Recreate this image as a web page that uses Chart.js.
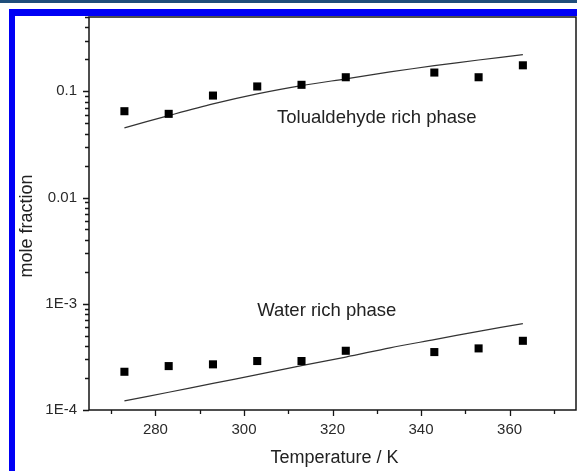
<!DOCTYPE html>
<html>
<head>
<meta charset="utf-8">
<script src="https://cdn.jsdelivr.net/npm/chart.js@4.4.0/dist/chart.umd.min.js"></script>
<style>
    html, body { margin: 0; padding: 0; background: #fff; }
    #wrap { position: relative; width: 577px; height: 471px; overflow: hidden; }
    #topbar { position: absolute; left: 0; top: 0; width: 577px; height: 3px; background: #1f4e7c; }
    #frame {
        position: absolute; left: 9px; top: 9px; width: 620px; height: 520px;
        border-left: 6px solid #0000f5; border-top: 7px solid #0000f5; box-sizing: border-box;
    }
    #chart { position: absolute; left: 0; top: 0; }
</style>
</head>
<body>
<div id="wrap">
    <div id="topbar"></div>
    <div id="frame"></div>
    <canvas id="chart" width="577" height="471"></canvas>
</div>
<script>
// mole fraction vs temperature — experimental (squares) and model (lines)

const TEMPS = [273, 283, 293, 303, 313, 323, 343, 353, 363];
const TOLU_EXP = [0.0649, 0.0613, 0.0911, 0.111, 0.115, 0.1355, 0.150, 0.1355, 0.1755];
const WATER_EXP = [2.29e-4, 2.59e-4, 2.69e-4, 2.89e-4, 2.89e-4, 3.61e-4, 3.51e-4, 3.80e-4, 4.48e-4];

const MODEL_TEMPS = [273, 283, 293, 303, 313, 323, 333, 343, 353, 363];
const TOLU_MODEL = [0.0453, 0.059, 0.076, 0.0945, 0.113, 0.131, 0.152, 0.174, 0.197, 0.221];
const WATER_MODEL = [1.22e-4, 1.47e-4, 1.78e-4, 2.15e-4, 2.62e-4, 3.15e-4, 3.85e-4, 4.6e-4, 5.5e-4, 6.5e-4];

const X_TICKS = [270, 280, 290, 300, 310, 320, 330, 340, 350, 360, 370];
const X_LABELS = [280, 300, 320, 340, 360];
const DECADES = [1e-4, 1e-3, 0.01, 0.1];
const DECADE_LABELS = ['1E-4', '1E-3', '0.01', '0.1'];
const MINOR_MULT = [2, 3, 4, 5, 6, 7, 8, 9];
const PHASE_LABELS = ['Tolualdehyde rich phase', 'Water rich phase'];

const X_TITLE = 'Temperature / K';
const Y_TITLE = 'mole fraction';

const Y_MIN = 1e-4, Y_MAX = 0.5;
const FONT = "'Liberation Sans', Arial, Helvetica, sans-serif";

const Y_TICKS = [];
DECADES.forEach(d => {
    Y_TICKS.push(d);
    MINOR_MULT.forEach(m => { if (d * m <= Y_MAX * 1.0001) Y_TICKS.push(d * m); });
});

function decadeLabel(v) {
    const i = DECADES.findIndex(d => Math.abs(v - d) / d < 1e-6);
    return i >= 0 ? DECADE_LABELS[i] : '';
}

const pts = (xs, ys) => xs.map((x, i) => ({ x, y: ys[i] }));

// frame, tick marks, titles and phase labels
const decorPlugin = {
    id: 'decor',
    afterDraw(chart) {
        const { ctx, chartArea: a, scales: { x, y } } = chart;
        ctx.save();
        ctx.strokeStyle = '#151515';
        ctx.lineWidth = 1.5;
        ctx.strokeRect(a.left, a.top, a.right - a.left, a.bottom - a.top);

        ctx.lineWidth = 1.3;
        ctx.beginPath();
        X_TICKS.forEach(v => {
            const px = Math.round(x.getPixelForValue(v)) + 0.5;
            const len = X_LABELS.includes(v) ? 6 : 4;
            ctx.moveTo(px, a.bottom);
            ctx.lineTo(px, a.bottom + len);
        });
        Y_TICKS.forEach(v => {
            const py = Math.round(y.getPixelForValue(v)) + 0.5;
            const len = decadeLabel(v) ? 6 : 4;
            ctx.moveTo(a.left, py);
            ctx.lineTo(a.left - len, py);
        });
        ctx.stroke();

        ctx.fillStyle = '#222';
        ctx.font = '18.5px ' + FONT;
        ctx.textAlign = 'center';
        ctx.textBaseline = 'middle';
        ctx.fillText(PHASE_LABELS[0], x.getPixelForValue(330), y.getPixelForValue(0.0566));
        ctx.fillText(PHASE_LABELS[1], x.getPixelForValue(318.7), y.getPixelForValue(8.5e-4));

        ctx.font = '18px ' + FONT;
        ctx.fillText(X_TITLE, (a.left + a.right) / 2 + 2, 458);
        ctx.translate(27, 226);
        ctx.rotate(-Math.PI / 2);
        ctx.fillText(Y_TITLE, 0, 0);
        ctx.restore();
    }
};

function noOverflow(s) {
    s.paddingLeft = 0;
    s.paddingRight = 0;
    s.paddingTop = 0;
    s.paddingBottom = 0;
}

new Chart(document.getElementById('chart'), {
    type: 'scatter',
    data: {
        datasets: [
            {
                label: 'Tolualdehyde exp',
                data: pts(TEMPS, TOLU_EXP),
                pointStyle: 'rect',
                pointRadius: 5.7,
                pointBorderWidth: 0,
                backgroundColor: '#000',
                borderColor: '#000',
            },
            {
                label: 'Water exp',
                data: pts(TEMPS, WATER_EXP),
                pointStyle: 'rect',
                pointRadius: 5.7,
                pointBorderWidth: 0,
                backgroundColor: '#000',
                borderColor: '#000',
            },
            {
                label: 'Tolualdehyde model',
                data: pts(MODEL_TEMPS, TOLU_MODEL),
                showLine: true,
                pointRadius: 0,
                borderColor: '#333',
                borderWidth: 1.2,
                tension: 0.3,
            },
            {
                label: 'Water model',
                data: pts(MODEL_TEMPS, WATER_MODEL),
                showLine: true,
                pointRadius: 0,
                borderColor: '#333',
                borderWidth: 1.2,
                tension: 0.3,
            }
        ]
    },
    options: {
        responsive: false,
        animation: false,
        devicePixelRatio: 1,
        layout: { autoPadding: false, padding: { top: 17, right: 1, bottom: 0, left: 0 } },
        plugins: {
            legend: { display: false },
            tooltip: { enabled: false }
        },
        scales: {
            x: {
                type: 'linear',
                min: 265,
                max: 375,
                afterBuildTicks: s => { s.ticks = X_TICKS.map(v => ({ value: v })); },
                afterFit: s => { s.height = 61; noOverflow(s); },
                grid: { display: false, drawTicks: false },
                border: { display: false },
                ticks: {
                    autoSkip: false,
                    maxRotation: 0,
                    padding: 11,
                    color: '#2a2a2a',
                    font: { family: FONT, size: 15 },
                    callback: v => X_LABELS.includes(v) ? String(v) : ''
                }
            },
            y: {
                type: 'logarithmic',
                min: Y_MIN,
                max: Y_MAX,
                afterBuildTicks: s => { s.ticks = Y_TICKS.map(v => ({ value: v })); },
                afterFit: s => { s.width = 89; noOverflow(s); },
                grid: { display: false, drawTicks: false },
                border: { display: false },
                ticks: {
                    autoSkip: false,
                    padding: 12,
                    color: '#2a2a2a',
                    font: { family: FONT, size: 15 },
                    callback: v => decadeLabel(v)
                }
            }
        }
    },
    plugins: [decorPlugin]
});
</script>
</body>
</html>
